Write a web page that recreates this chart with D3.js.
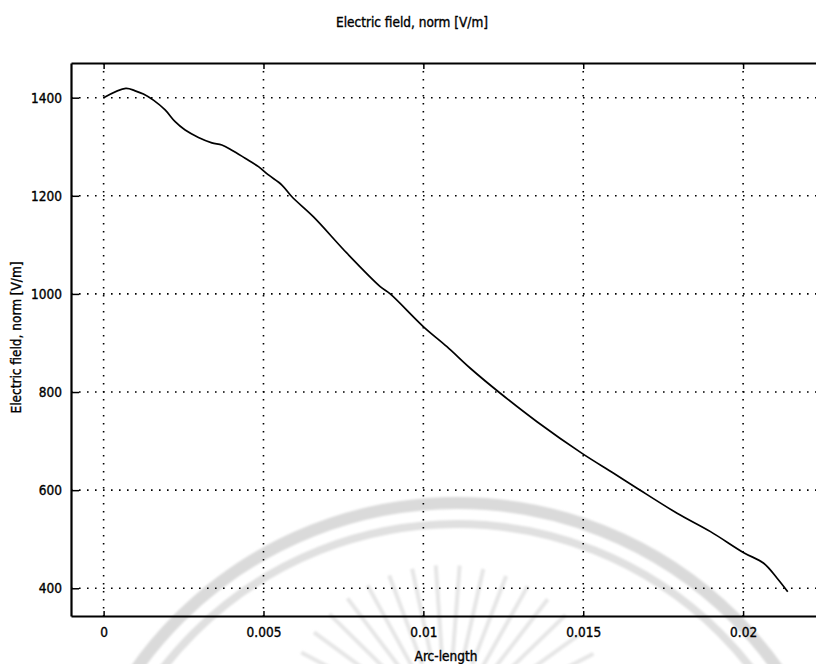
<!DOCTYPE html>
<html>
<head>
<meta charset="utf-8">
<script src="https://cdn.jsdelivr.net/npm/d3@7"></script>
<style>
  html, body { margin: 0; padding: 0; background: #fff; }
  svg { display: block; }
  text { font-family: "DejaVu Sans Condensed", "DejaVu Sans", sans-serif; fill: #000; stroke: #000; stroke-width: 0.35px; }
</style>
</head>
<body>
<svg id="chart" width="816" height="664"></svg>
<script>
// Electric field norm sampled along the boundary arc
const arcLength = [
  0, 0.000695, 0.000986, 0.001245, 0.001558, 0.001924, 0.002237, 0.00255,
  0.002966, 0.003386, 0.003698, 0.004011, 0.004427, 0.004844, 0.005156,
  0.005576, 0.005889, 0.006565, 0.00761, 0.008651, 0.008964, 0.010006,
  0.010738, 0.011468, 0.012406, 0.013554, 0.014963, 0.015951, 0.016683,
  0.017935, 0.01898, 0.02002, 0.020644, 0.021064, 0.021396
];
const fieldNorm = [
  1400, 1419, 1414, 1407.5, 1395, 1375, 1351, 1334,
  1319, 1308, 1303.5, 1293, 1276.5, 1259.5, 1242.5,
  1222, 1198, 1157, 1083, 1015, 1000, 933,
  892.5, 848.5, 797.5, 739.5, 675, 634.5, 604,
  553, 515.5, 472.5, 451, 420.5, 393
];
const xTicks = [0, 0.005, 0.01, 0.015, 0.02];
const xTickLabels = ["0", "0.005", "0.01", "0.015", "0.02"];
const yTicks = [400, 600, 800, 1000, 1200, 1400];
const yTickLabels = ["400", "600", "800", "1000", "1200", "1400"];
const titleText = "Electric field, norm [V/m]";
const xLabelText = "Arc-length";
const yLabelText = "Electric field, norm [V/m]";

const W = 816, H = 664;
const frame = { left: 71, right: 816, top: 63, bottom: 616 };

const x = d3.scaleLinear().domain([-0.00102, 0.02228]).range([frame.left, frame.right]);
const y = d3.scaleLinear().domain([343.5, 1470.7]).range([frame.bottom, frame.top]);

const svg = d3.select("#chart");

// faint background emblem (arcs and rays) behind the plot
const defs = svg.append("defs");
defs.append("filter").attr("id", "soft")
  .append("feGaussianBlur").attr("stdDeviation", 1.2);
const emblem = svg.append("g").attr("class", "emblem").attr("filter", "url(#soft)");
const ec = { cx: 457, cy: 896 };
emblem.append("circle")
  .attr("cx", ec.cx).attr("cy", ec.cy).attr("r", 393)
  .attr("fill", "none").attr("stroke", "#dadada").attr("stroke-width", 12);
emblem.append("circle")
  .attr("cx", ec.cx).attr("cy", ec.cy).attr("r", 372)
  .attr("fill", "none").attr("stroke", "#e0e0e0").attr("stroke-width", 8);
const rayAngles = d3.range(-62, 63, 8.3);
emblem.selectAll("line.ray").data(rayAngles).join("line")
  .attr("class", "ray")
  .attr("x1", a => 447 + 70 * Math.sin(a * Math.PI / 180))
  .attr("y1", a => 730 - 70 * Math.cos(a * Math.PI / 180))
  .attr("x2", a => 447 + 165 * Math.sin(a * Math.PI / 180))
  .attr("y2", a => 730 - 165 * Math.cos(a * Math.PI / 180))
  .attr("stroke", "#e6e6e6").attr("stroke-width", 4);

// dotted grid
const grid = svg.append("g").attr("class", "grid")
  .attr("stroke", "#000").attr("stroke-width", 1.6)
  .attr("stroke-dasharray", "1.6 6.4");
grid.selectAll("line.gx").data(xTicks).join("line")
  .attr("class", "gx")
  .attr("x1", d => x(d)).attr("x2", d => x(d))
  .attr("y1", frame.top).attr("y2", frame.bottom);
grid.selectAll("line.gy").data(yTicks).join("line")
  .attr("class", "gy")
  .attr("y1", d => y(d)).attr("y2", d => y(d))
  .attr("x1", frame.left).attr("x2", frame.right);

// axes with inward ticks
const axisBottom = d3.axisBottom(x).tickValues(xTicks)
  .tickFormat((d, i) => xTickLabels[i]).tickSize(-5).tickSizeOuter(0).tickPadding(11);
const gxAxis = svg.append("g").attr("transform", `translate(0,${frame.bottom})`).call(axisBottom);

const axisTop = d3.axisTop(x).tickValues(xTicks).tickFormat("").tickSize(-6).tickSizeOuter(0);
const gtAxis = svg.append("g").attr("transform", `translate(0,${frame.top})`).call(axisTop);

const axisLeft = d3.axisLeft(y).tickValues(yTicks)
  .tickFormat((d, i) => yTickLabels[i]).tickSize(-8).tickSizeOuter(0).tickPadding(9);
const gyAxis = svg.append("g").attr("transform", `translate(${frame.left},0)`).call(axisLeft);

[gxAxis, gtAxis, gyAxis].forEach(g => {
  g.select(".domain").attr("stroke", "#000").attr("stroke-width", 2.2);
  g.selectAll(".tick line").attr("stroke", "#000").attr("stroke-width", 1.5);
  g.selectAll(".tick text").attr("font-size", 13.5).attr("font-family", null).attr("fill", "#000");
});

// field curve
const line = d3.line()
  .x((d, i) => x(arcLength[i]))
  .y(d => y(d))
  .curve(d3.curveCatmullRom.alpha(0.5));
svg.append("path")
  .datum(fieldNorm)
  .attr("d", line)
  .attr("fill", "none")
  .attr("stroke", "#000")
  .attr("stroke-width", 1.7)
  .attr("stroke-linejoin", "round");

// titles
svg.append("text")
  .attr("x", 412).attr("y", 27)
  .attr("text-anchor", "middle")
  .attr("font-size", 13.5)
  .text(titleText);

svg.append("text")
  .attr("x", 446).attr("y", 661)
  .attr("text-anchor", "middle")
  .attr("font-size", 13.5)
  .text(xLabelText);

svg.append("text")
  .attr("transform", `translate(21,${(frame.top + frame.bottom) / 2 - 2}) rotate(-90)`)
  .attr("text-anchor", "middle")
  .attr("font-size", 13.5)
  .text(yLabelText);
</script>
</body>
</html>
